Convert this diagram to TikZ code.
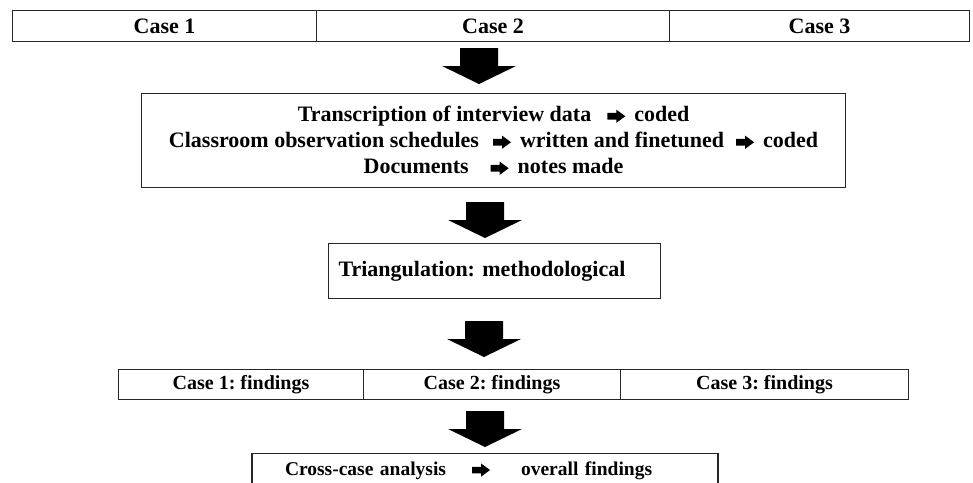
\documentclass[tikz,border=0pt]{standalone}
\usepackage{fontspec}
\setmainfont{Liberation Serif}
\usetikzlibrary{calc}
\frenchspacing

% small solid arrow used inside the text lines
\newcommand{\inarrow}{\tikz[x=1pt,y=1pt,baseline=-5.5pt]\fill[black] (0,-3.3)--(9,-3.3)--(9,-6.6)--(18,0)--(9,6.6)--(9,3.3)--(0,3.3)--cycle;}

% large block arrow pointing down, from top point #1 to tip #2
\newcommand{\blockarrow}[2]{%
  \fill[black] let \p1=(#1), \p2=(#2) in
    (\x1-19pt,\y1) -- (\x1+19pt,\y1) -- (\x1+19pt,\y2+18pt) -- (\x1+37pt,\y2+18pt)
    -- (\x1,\y2) -- (\x1-37pt,\y2+18pt) -- (\x1-19pt,\y2+18pt) -- cycle;}

\begin{document}
\begin{tikzpicture}[x=1pt,y=-1pt,
  frame/.style={draw=black!85, line width=1.1pt, inner sep=0pt, anchor=north west,
    font=\fontsize{22}{26}\selectfont\bfseries},
  small/.style={font=\fontsize{20}{24}\selectfont\bfseries}]
\useasboundingbox (0,0) rectangle (973,482);
\fill[white] (0,0) rectangle (973,482);

% cases
\node[frame, minimum width=304, minimum height=31] (c1) at (12,10) {Case 1};
\node[frame, minimum width=353, minimum height=31] (c2) at (316,10) {Case 2};
\node[frame, minimum width=300, minimum height=31] (c3) at (669,10) {Case 3};

% data processing
\node[frame, minimum width=704, minimum height=94, align=center] (proc) at (141,93)
  {Transcription of interview data\hspace{16pt}\inarrow\hspace{9pt}coded\\
   Classroom observation schedules\hspace{14pt}\inarrow\hspace{9pt}written and finetuned\hspace{12pt}\inarrow\hspace{9pt}coded\\
   Documents\hspace{22pt}\inarrow\hspace{9pt}notes made};

% triangulation
\node[frame, minimum width=332, minimum height=55, text width=312, align=left,
  inner xsep=10pt] (tri) at (328,243) {Triangulation: methodological};

% findings per case
\node[frame, small, minimum width=245, minimum height=30] (f1) at (118,369) {Case 1: findings};
\node[frame, small, minimum width=257, minimum height=30] (f2) at (363,369) {Case 2: findings};
\node[frame, small, minimum width=288, minimum height=30] (f3) at (620,369) {Case 3: findings};

% cross-case analysis
\node[frame, font=\fontsize{19.5}{24}\selectfont\bfseries, anchor=north, minimum width=466,
  text width=400, align=left, inner xsep=33pt, text height=15pt, text depth=5pt,
  inner ysep=7pt] (cca) at (485,453)
  {Cross-case analysis\hspace{26pt}\inarrow\hspace{31pt}overall findings};

% block arrows between the stages
\coordinate (a1s) at (479,48);  \coordinate (a1e) at (479,84);
\coordinate (a2s) at (485,202); \coordinate (a2e) at (485,238);
\coordinate (a3s) at (484,321); \coordinate (a3e) at (484,357);
\coordinate (a4s) at (485,411); \coordinate (a4e) at (485,447);
\blockarrow{a1s}{a1e}
\blockarrow{a2s}{a2e}
\blockarrow{a3s}{a3e}
\blockarrow{a4s}{a4e}
\end{tikzpicture}
\end{document}
